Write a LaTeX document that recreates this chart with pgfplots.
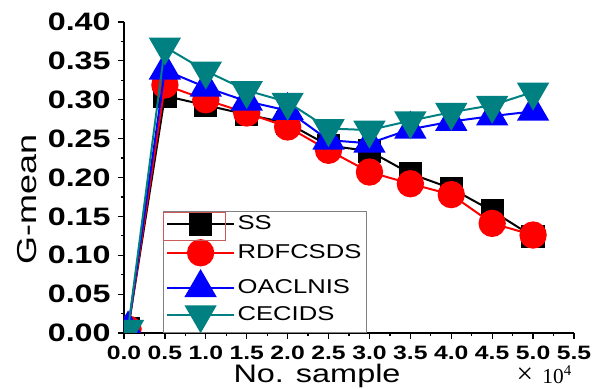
\documentclass[border=0pt]{standalone}
\usepackage{fontspec}
\setmainfont{Liberation Sans}[FakeStretch=1.28]
\newfontfamily\seriffont{Liberation Serif}
\usepackage{pgfplots}
\pgfplotsset{compat=1.18}
\definecolor{teal}{RGB}{0,128,128}
\definecolor{selred}{RGB}{205,90,90}
\begin{document}
\begin{tikzpicture}
\begin{axis}[
  scale only axis,
  width=337.5pt, height=233.25pt,
  xmin=0, xmax=5.5, ymin=0, ymax=0.40,
  axis x line*=bottom, axis y line*=left,
  axis line style={line width=1pt},
  tick align=outside,
  major tick length=4.5pt, minor tick length=2.5pt,
  tick style={black, line width=0.9pt},
  minor tick num=1,
  xtick={0,0.5,...,5.5},
  ytick={0,0.05,...,0.401},
  scaled ticks=false,
  clip mode=individual,
  clip marker paths=true,
  /pgf/number format/assume math mode=true,
  xticklabel style={font=\bfseries\fontsize{14.5}{16}\selectfont, /pgf/number format/.cd, fixed, fixed zerofill, precision=1},
  yticklabel style={font=\bfseries\fontsize{18.9}{20}\selectfont, /pgf/number format/.cd, fixed, fixed zerofill, precision=2},
  xticklabel shift=2pt,
  yticklabel shift=2pt,
  legend style={at={(rel axis cs:0.087,0)}, anchor=south west, draw=gray, line width=0.6pt,
    font=\fontsize{15}{16}\selectfont, inner xsep=2pt, inner ysep=1pt,
    row sep=4.2pt, cells={anchor=west}},
  legend image code/.code={\draw[mark repeat=2,mark phase=2] plot coordinates {(-0.1cm,0cm)(0.78cm,0cm)(1.66cm,0cm)};},
  every axis plot/.append style={line width=1.5pt},
]
\addplot[black, mark=square*, mark size=8pt, mark options={solid}] coordinates {
(0.05,0.005) (0.5,0.305) (1,0.293) (1.5,0.281) (2,0.270) (2.5,0.241) (3,0.234) (3.5,0.205) (4,0.186) (4.5,0.157) (5,0.124)};
\addlegendentry{SS}
\addplot[red, mark=*, mark size=9.5pt, mark options={solid, fill=red}] coordinates {
(0.05,0.005) (0.5,0.319) (1,0.300) (1.5,0.283) (2,0.265) (2.5,0.235) (3,0.207) (3.5,0.192) (4,0.178) (4.5,0.141) (5,0.126)};
\addlegendentry{RDFCSDS}
\addplot[blue, mark=triangle*, mark size=12.5pt, mark options={solid, fill=blue}] coordinates {
(0.05,0.005) (0.5,0.338) (1,0.316) (1.5,0.298) (2,0.286) (2.5,0.248) (3,0.244) (3.5,0.262) (4,0.272) (4.5,0.279) (5,0.285)};
\addlegendentry{OACLNIS}
\addplot[teal, mark=triangle*, mark size=12.5pt, mark options={solid, fill=teal, rotate=180}] coordinates {
(0.05,0.005) (0.5,0.368) (1,0.337) (1.5,0.312) (2,0.297) (2.5,0.263) (3,0.261) (3.5,0.273) (4,0.284) (4.5,0.293) (5,0.310)};
\addlegendentry{CECIDS}
\node[rotate=90, anchor=center, font=\fontsize{28.5}{30}\selectfont] at (rel axis cs:-0.2156,0.43) {\scalebox{0.74}[0.72]{G-mean}};
\node[anchor=base, font=\fontsize{19}{20}\selectfont] at (rel axis cs:0.429,-0.16) {No. sample};
\node[anchor=base east, inner sep=0pt] at (rel axis cs:0.996,-0.163) {\seriffont{\fontsize{22}{22}\selectfont ×}\hspace{7pt}{\fontsize{16}{17}\selectfont 10\textsuperscript{4}}};
\end{axis}
\draw[selred, line width=0.5pt] ([shift={(29.25pt,69.75pt)}]current axis.south west) rectangle ([shift={(75.75pt,90.75pt)}]current axis.south west);
\pgfresetboundingbox
\path[use as bounding box] ([shift={(-93pt,-42pt)}]current axis.south west) rectangle ([shift={(19.5pt,16.5pt)}]current axis.north east);
\end{tikzpicture}
\end{document}
